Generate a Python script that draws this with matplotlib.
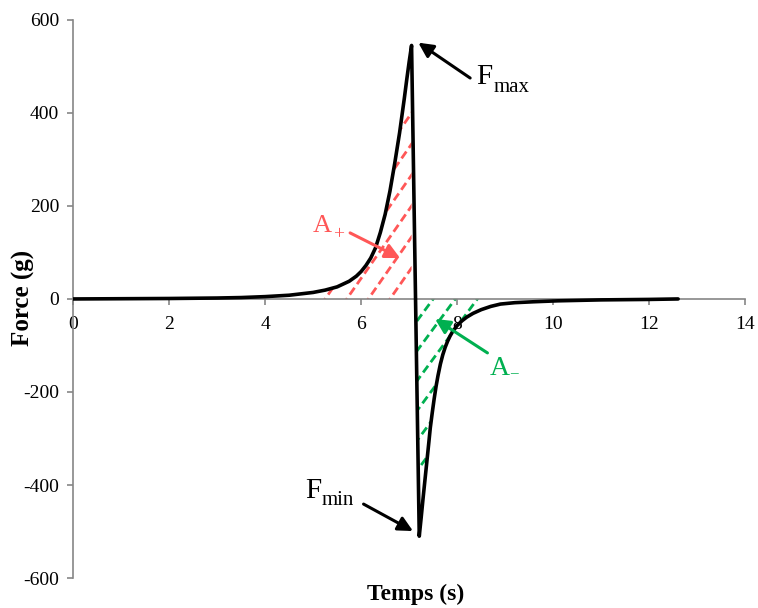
import numpy as np
import matplotlib
matplotlib.use("Agg")
import matplotlib.pyplot as plt
from matplotlib.patches import Polygon

plt.rcParams['font.family'] = ['Liberation Serif', 'DejaVu Serif']
plt.rcParams['axes.unicode_minus'] = False

# ---- data ----
time_s = [0, 1, 2, 3, 3.5, 4, 4.5, 5, 5.25, 5.5, 5.75, 5.9, 6.0, 6.1, 6.2,
          6.3, 6.4, 6.5, 6.6, 6.7, 6.8, 6.9, 6.95, 7.0, 7.05,
          7.21, 7.25, 7.29, 7.33, 7.37, 7.41, 7.44, 7.48, 7.52, 7.56, 7.6,
          7.65, 7.7, 7.75, 7.8, 7.85, 7.9, 8.0, 8.1, 8.2, 8.33, 8.5, 8.7,
          8.9, 9.2, 9.6, 10.1, 11, 12, 12.6]
force_g = [0, 0.5, 1, 2, 3, 5, 8, 14, 19, 26, 38, 49, 59, 72, 88,
           110, 143, 182, 232, 292, 357, 432, 472, 510, 545,
           -510, -470, -428, -388, -348, -308, -277, -245, -215, -188, -165,
           -140, -120, -104, -91, -80, -71, -57, -47, -39, -31, -23, -16,
           -11, -8, -6, -4, -2, -1, 0]

x_ticks = [0, 2, 4, 6, 8, 10, 12, 14]
y_ticks = [-600, -400, -200, 0, 200, 400, 600]

# hatch lines: x-intercepts (y = 0) and slopes (g/s)
red_hatch_t0 = [6.6, 6.15, 5.7, 5.25, 4.8, 4.35]
red_slope = 148
red_region = (5.2, 7.05)
green_hatch_t0 = [7.5, 7.96, 8.42, 8.88, 9.34, 9.8]
green_slope = 140
green_region = (7.12, 8.7)

RED = '#FF5757'
GREEN = '#00B050'
AXC = '#868686'

fig = plt.figure(figsize=(7.58, 6.08), dpi=100)
ax = fig.add_axes([0.0963, 0.0493, 0.887, 0.918])

t = np.array(time_s, dtype=float)
f = np.array(force_g, dtype=float)

ax.set_xlim(0, 14)
ax.set_ylim(-600, 600)


def region_poly(t0, t1):
    tt = np.linspace(t0, t1, 800)
    ff = np.interp(tt, t, f)
    verts = [(t0, 0)] + list(zip(tt, ff)) + [(t1, 0)]
    return Polygon(verts, closed=True, transform=ax.transData,
                   facecolor='none', edgecolor='none')


def draw_hatch(t0list, slope, region, color):
    poly = region_poly(*region)
    ax.add_patch(poly)
    xs = np.array([region[0] - 5, region[1] + 5])
    for t0 in t0list:
        ln, = ax.plot(xs, slope * (xs - t0), color=color, lw=2.0,
                      dashes=(3, 1.6), zorder=2)
        ln.set_clip_path(poly)


draw_hatch(red_hatch_t0, red_slope, red_region, RED)
draw_hatch(green_hatch_t0, green_slope, green_region, GREEN)

ax.plot(t, f, color='black', lw=2.6, zorder=3, solid_joinstyle='round',
        solid_capstyle='round')

# axes styling
for s in ['top', 'right']:
    ax.spines[s].set_visible(False)
ax.spines['bottom'].set_position(('data', 0))
ax.spines['bottom'].set_color(AXC)
ax.spines['left'].set_color(AXC)
ax.spines['bottom'].set_linewidth(1.2)
ax.spines['left'].set_linewidth(1.2)
ax.set_xticks(x_ticks)
ax.set_yticks(y_ticks)
ax.tick_params(axis='both', colors=AXC, labelcolor='black', labelsize=14,
               length=4, width=1.2, direction='out')
ax.tick_params(axis='x', pad=8.5)
ax.tick_params(axis='y', pad=6)

fig.text(416 / 758, 1 - 594 / 608, 'Temps (s)', fontsize=17,
         fontweight='bold', ha='center', va='center')
fig.text(23 / 758, 1 - 298 / 608, 'Force (g)', fontsize=18,
         fontweight='bold', ha='center', va='center', rotation=90)

# annotations
arrow_k = dict(arrowstyle='-|>', lw=2.2, mutation_scale=22, shrinkA=0, shrinkB=0)
ax.annotate('', xy=(7.19, 551), xytext=(8.27, 475),
            arrowprops=dict(color='black', **arrow_k))
ax.text(8.4, 463, 'F', fontsize=21, color='black')
ax.text(8.75, 446, 'max', fontsize=15, color='black')

ax.annotate('', xy=(7.08, -499), xytext=(6.05, -441),
            arrowprops=dict(color='black', **arrow_k))
ax.text(4.83, -428, 'F', fontsize=21, color='black')
ax.text(5.18, -444, 'min', fontsize=15, color='black')

ax.annotate('', xy=(6.81, 88), xytext=(5.77, 142),
            arrowprops=dict(color=RED, **arrow_k))
ax.text(5.0, 144, 'A', fontsize=19, color=RED)
ax.text(5.42, 128, '+', fontsize=14, color=RED)

ax.annotate('', xy=(7.54, -43), xytext=(8.63, -116),
            arrowprops=dict(color=GREEN, **arrow_k))
ax.text(8.68, -163, 'A', fontsize=20, color=GREEN)
ax.text(9.1, -168, '\u2013', fontsize=11, color=GREEN)

fig.savefig('out.png', dpi=100)
